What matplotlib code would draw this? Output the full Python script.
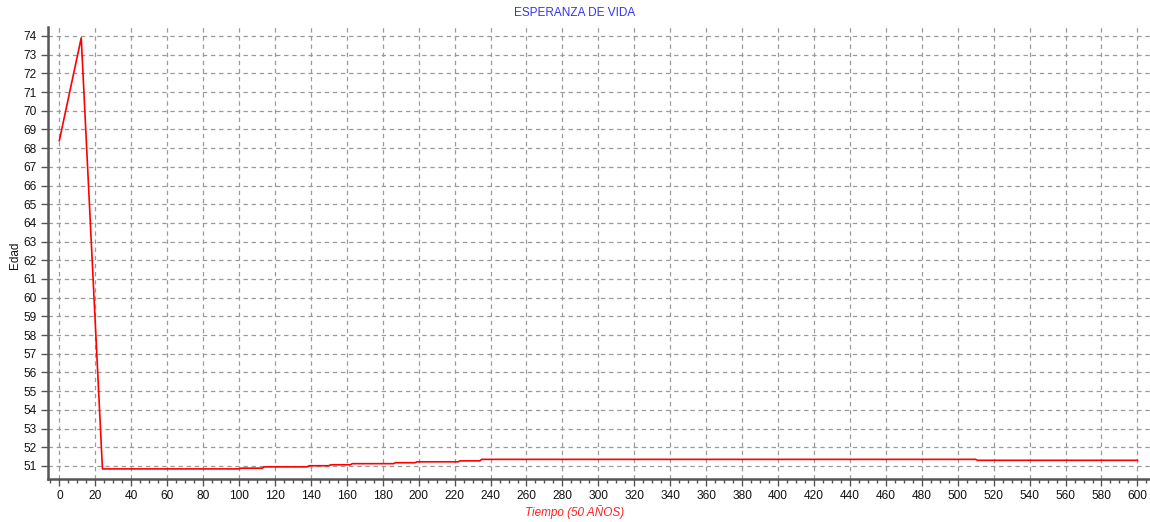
import matplotlib
matplotlib.use("Agg")
import matplotlib.pyplot as plt
from matplotlib.ticker import MultipleLocator

# Life expectancy series over the simulated time span
tiempo = [0, 12.2, 24, 100, 101, 113, 114, 138, 139, 150, 151, 162, 163,
          186, 187, 198, 199, 222, 223, 234, 235, 510, 511, 600]
edad = [68.4, 73.9, 50.84, 50.84, 50.88, 50.88, 50.95, 50.95, 51.01, 51.01,
        51.06, 51.06, 51.12, 51.12, 51.17, 51.17, 51.22, 51.22, 51.27, 51.27,
        51.35, 51.35, 51.30, 51.30]

x_ticks = list(range(0, 601, 20))
y_ticks = list(range(51, 75))

titulo = "ESPERANZA DE VIDA"
etiqueta_x = "Tiempo (50 AÑOS)"
etiqueta_y = "Edad"

plt.rcParams["font.family"] = ["Liberation Sans", "DejaVu Sans"]

W, H = 1150, 522
fig = plt.figure(figsize=(W / 100, H / 100), dpi=100)
ax = fig.add_axes([48 / W, 1 - 479 / H, 1 - 48 / W, (479 - 27) / H])

ax.plot(tiempo, edad, color="#ff0000", linewidth=1.2, zorder=3)

ax.set_xlim(-6.3, 607)
ax.set_ylim(50.3, 74.48)
ax.set_xticks(x_ticks)
ax.set_yticks(y_ticks)
ax.xaxis.set_minor_locator(MultipleLocator(5))

ax.grid(True, which="major", color="#9a9a9a", linestyle=(0, (3.5, 3)), linewidth=0.9)

for side in ("top", "right"):
    ax.spines[side].set_visible(False)
for side in ("left", "bottom"):
    ax.spines[side].set_color("#555555")
    ax.spines[side].set_linewidth(1.8)

ax.tick_params(axis="both", which="major", direction="out", length=5,
               width=1, color="#555555", labelsize=8.6, labelcolor="#111111", pad=3)
ax.tick_params(axis="x", which="minor", direction="out", length=3,
               width=1, color="#555555")

fig.text(0.5, 1 - 13 / H, titulo, color="#3333ee", fontsize=8.5,
         ha="center", va="center")
fig.text(0.5, 1 - 512 / H, etiqueta_x, color="#ff2222", fontsize=8.5,
         style="italic", ha="center", va="center")
fig.text(15 / W, 1 - 255 / H, etiqueta_y, color="#111111", fontsize=8.5,
         rotation=90, ha="center", va="center")

fig.savefig("out.png", dpi=100)
